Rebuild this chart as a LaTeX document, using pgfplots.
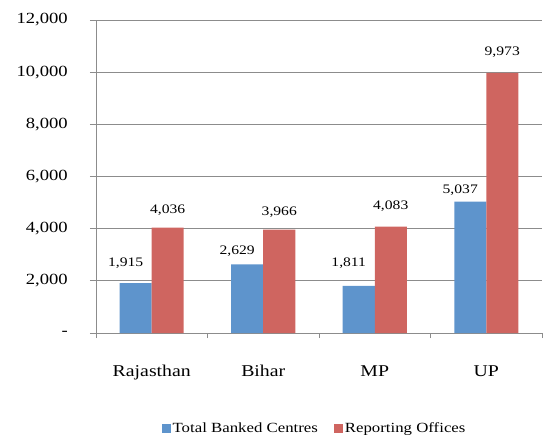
\documentclass[border=0pt]{standalone}
\usepackage{fontspec}
\setmainfont{Liberation Serif}[FakeStretch=1.2]
\usepackage{pgfplots}
\usepackage{pgfplotstable}
\pgfplotsset{compat=1.18}
\definecolor{cBlue}{RGB}{94,148,204}
\definecolor{cRed}{RGB}{207,101,96}
\definecolor{cAxis}{RGB}{140,140,140}

% x value dy(label shift, bp)
\pgfplotstableread{
x y dy
0 1915 11
1 2629 4
2 1811 14
3 5037 3
}\banked
\pgfplotstableread{
x y dy
0 4036 9
1 3966 9
2 4083 11
3 9973 12
}\offices

\begin{document}
\begin{tikzpicture}
\useasboundingbox (-96bp,-104bp) rectangle (452bp,333bp);
\begin{axis}[
  at={(0,0)}, anchor=south west,
  scale only axis, width=446bp, height=313bp,
  ybar=0pt, bar width=32bp,
  xmin=-0.5, xmax=3.5, ymin=0, ymax=12000,
  axis x line*=bottom, axis y line*=left,
  axis line style={cAxis, line width=0.8pt},
  ymajorgrids, grid style={cAxis, line width=0.8pt},
  scaled y ticks=false,
  xtick={0,1,2,3},
  xticklabels={Rajasthan,Bihar,MP,UP},
  major x tick style={draw=none},
  minor xtick={-0.5,0.5,1.5,2.5,3.5},
  minor x tick style={cAxis, line width=0.8pt},
  minor tick length=5bp,
  ytick={0,2000,4000,6000,8000,10000,12000},
  yticklabels={-,{2,000},{4,000},{6,000},{8,000},{10,000},{12,000}},
  major y tick style={cAxis, line width=0.8pt},
  major tick length=6bp,
  tick align=outside,
  yticklabel style={font=\fontsize{15.5bp}{18bp}\selectfont, anchor=east, inner sep=0pt, xshift=-22bp},
  xticklabel style={font=\fontsize{16.5bp}{19bp}\selectfont, anchor=north, inner sep=0pt, yshift=-26bp},
  /pgf/number format/assume math mode=true,
  /pgf/number format/1000 sep={,},
  nodes near coords,
  visualization depends on={\thisrow{dy} \as \dy},
  every node near coord/.append style={font=\fontsize{13bp}{15bp}\selectfont, yshift=\dy bp},
  legend style={at={(rel axis cs:0.49,-0.305)}, anchor=center, draw=none, fill=none,
    font=\fontsize{14bp}{16bp}\selectfont, legend columns=2,
    /tikz/every even column/.append style={column sep=14bp}},
  legend image code/.code={\fill[#1] (0bp,-4.5bp) rectangle (9bp,4.5bp);},
]
\addplot[fill=cBlue, draw=none, every node near coord/.append style={xshift=-10bp}]
  table[x=x, y=y] {\banked};
\addplot[fill=cRed, draw=none]
  table[x=x, y=y] {\offices};
\legend{Total Banked Centres, Reporting Offices}
\end{axis}
\end{tikzpicture}
\end{document}
